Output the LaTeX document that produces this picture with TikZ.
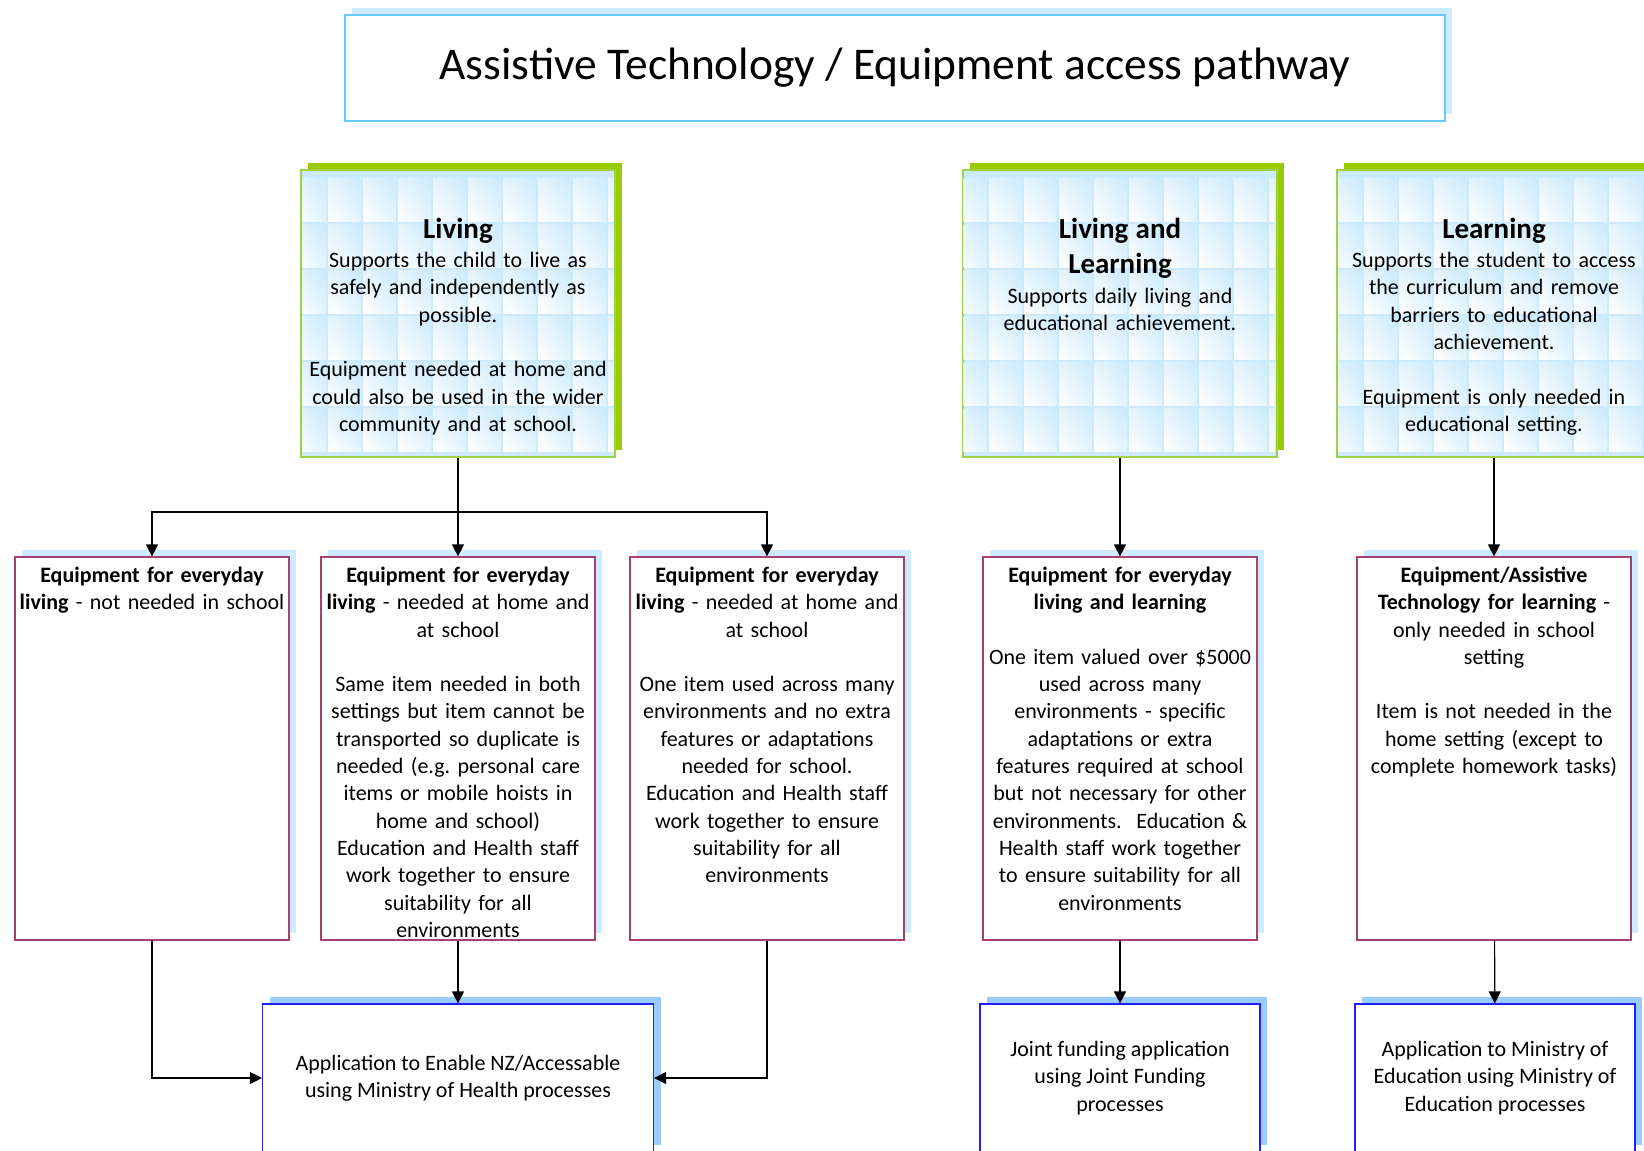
\documentclass[tikz,border=0pt]{standalone}
\usepackage{fontspec}
\setmainfont{Carlito}
\frenchspacing
\usetikzlibrary{positioning,arrows.meta,shadows,shadings}

\definecolor{titleline}{RGB}{102,204,255}
\definecolor{titleshade}{RGB}{206,236,255}
\definecolor{topline}{RGB}{160,210,70}
\definecolor{topshade}{RGB}{153,204,0}
\definecolor{tileblue}{RGB}{204,234,252}
\definecolor{eqline}{RGB}{168,64,112}
\definecolor{eqshade}{RGB}{206,234,255}
\definecolor{appline}{RGB}{30,30,255}
\definecolor{appshade}{RGB}{153,204,255}

\newcommand{\grouphead}{\fontsize{14.5}{17.8}\selectfont\bfseries}

\tikzset{
  bodyfont/.style={font=\fontsize{11}{13.65}\selectfont},
  titlebox/.style={draw=titleline, line width=0.8pt, fill=white,
    minimum width=550pt, minimum height=53pt, font=\fontsize{22.7}{27}\selectfont,
    general shadow={fill=titleshade, shadow xshift=3.5pt, shadow yshift=3.5pt}},
  groupbox/.style={draw=topline, line width=0.7pt, fill=tileblue,
    minimum width=157pt, minimum height=143.5pt,
    general shadow={fill=topshade, shadow xshift=3.5pt, shadow yshift=3.5pt}},
  eqbox/.style={draw=eqline, fill=white, minimum width=137pt, minimum height=191.5pt,
    general shadow={fill=eqshade, shadow xshift=3.5pt, shadow yshift=3.5pt}},
  appbox/.style={draw=appline, fill=white, minimum height=74pt, bodyfont, align=center,
    general shadow={fill=appshade, shadow xshift=3.5pt, shadow yshift=3.5pt}},
  grouptext/.style={bodyfont, text width=154pt, align=center, inner sep=0pt},
  eqtext/.style={bodyfont, text width=136pt, align=center, inner sep=0pt}
}

\begin{document}
\begin{tikzpicture}[x=0.5pt, y=-0.5pt, line width=0.6pt, >={Triangle[length=6pt,width=6pt]}]
\useasboundingbox (0,0) rectangle (1644,1151);

\node[titlebox] (title) at (895,68) {Assistive Technology / Equipment access pathway};

% top row
\node[groupbox] (living) at (458,313.5) {};
\node[groupbox] (both) at (1120,313.5) {};
\node[groupbox] (learning) at (1494,313.5) {};
\foreach \bx in {301,962,1337} {
  \begin{scope}
    \clip (\bx+1.5,171.5) rectangle (\bx+312.5,455.5);
    \foreach \c in {0,...,9}
      \foreach \r in {0,...,5}
        \shade[lower left=white, upper left=tileblue!55!white, lower right=tileblue!55!white, upper right=tileblue]
          (\bx-8+35*\c, 178+46*\r) rectangle (\bx+25+35*\c, 221+46*\r);
  \end{scope}
}

\node[grouptext, below=24pt of living.north] (livingtxt) {{\grouphead Living\par}\vspace{1pt}
  Supports the child to live as\\ safely and independently as\\ possible.\\[13.65pt]
  Equipment needed at home and\\ could also be used in the wider\\ community and at school.};
\node[grouptext, below=24pt of both.north] (bothtxt) {{\grouphead Living and\\ Learning\par}\vspace{1pt}
  Supports daily living and\\ educational achievement.};
\node[grouptext, below=24pt of learning.north] (learningtxt) {{\grouphead Learning\par}\vspace{1pt}
  Supports the student to access\\ the curriculum and remove\\ barriers to educational\\ achievement.\\[13.65pt]
  Equipment is only needed in\\ educational setting.};

% equipment row
\node[eqbox] (eq1) at (152,748.5) {};
\node[eqbox] (eq2) at (458,748.5) {};
\node[eqbox] (eq3) at (767,748.5) {};
\node[eqbox] (eq4) at (1120,748.5) {};
\node[eqbox] (eq5) at (1494,748.5) {};

\node[eqtext, below=5pt of eq1.north] (eq1txt) {\textbf{Equipment for everyday}\\ \textbf{living} - not needed in school};
\node[eqtext, below=5pt of eq2.north] (eq2txt) {\textbf{Equipment for everyday}\\ \textbf{living} - needed at home and\\ at school\\[13.65pt]
  Same item needed in both\\ settings but item cannot be\\ transported so duplicate is\\ needed (e.g. personal care\\ items or mobile hoists in\\ home and school)\\
  Education and Health staff\\ work together to ensure\\ suitability for all\\ environments};
\node[eqtext, below=5pt of eq3.north] (eq3txt) {\textbf{Equipment for everyday}\\ \textbf{living} - needed at home and\\ at school\\[13.65pt]
  One item used across many\\ environments and no extra\\ features or adaptations\\ needed for school.\\
  Education and Health staff\\ work together to ensure\\ suitability for all\\ environments};
\node[eqtext, below=5pt of eq4.north] (eq4txt) {\textbf{Equipment for everyday}\\ \textbf{living and learning}\\[13.65pt]
  One item valued over \$5000\\ used across many\\ environments - specific\\ adaptations or extra\\ features required at school\\ but not necessary for other\\ environments.\ \ Education \&\\ Health staff work together\\ to ensure suitability for all\\ environments};
\node[eqtext, below=5pt of eq5.north] (eq5txt) {\textbf{Equipment/Assistive}\\ \textbf{Technology for learning} -\\ only needed in school\\ setting\\[13.65pt]
  Item is not needed in the\\ home setting (except to\\ complete homework tasks)};

% application row
\node[appbox, minimum width=195.5pt] (appA) at (458,1078) {Application to Enable NZ/Accessable\\ using Ministry of Health processes};
\node[appbox, minimum width=140pt] (appB) at (1120,1078) {Joint funding application\\ using Joint Funding\\ processes};
\node[appbox, minimum width=140pt] (appC) at (1495,1078) {Application to Ministry of\\ Education using Ministry of\\ Education processes};

% connectors
\coordinate (split) at (458,512);
\draw (living) -- (split);
\draw[->] (split) -| (eq1);
\draw[->] (split) -- (eq2);
\draw[->] (split) -| (eq3);
\draw[->] (both) -- (eq4);
\draw[->] (learning) -- (eq5);
\draw[->] (eq1) |- (appA);
\draw[->] (eq2) -- (appA);
\draw[->] (eq3) |- (appA);
\draw[->] (eq4) -- (appB);
\draw[->] (eq5) -- (appC);
\end{tikzpicture}
\end{document}
